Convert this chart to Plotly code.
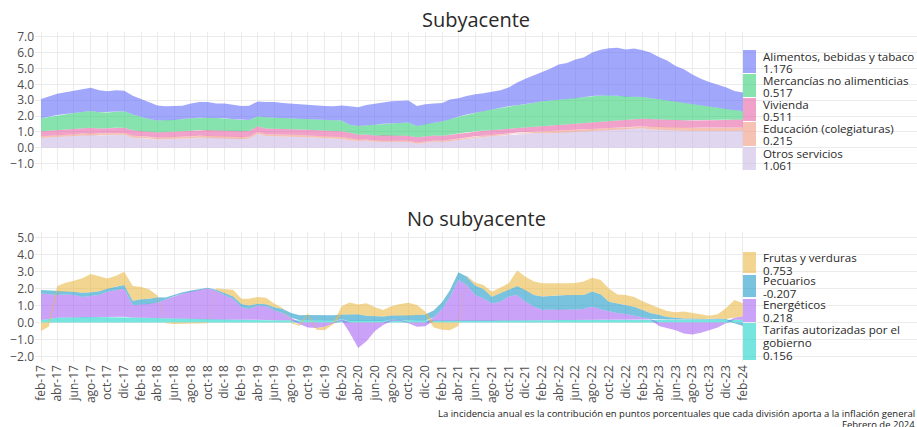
import numpy as np
import pandas as pd
import plotly.graph_objects as go

# ---------------- data ----------------
meses = pd.date_range("2017-02-01", periods=85, freq="MS")

etiquetas = ["feb-17", "abr-17", "jun-17", "ago-17", "oct-17", "dic-17",
             "feb-18", "abr-18", "jun-18", "ago-18", "oct-18", "dic-18",
             "feb-19", "abr-19", "jun-19", "ago-19", "oct-19", "dic-19",
             "feb-20", "abr-20", "jun-20", "ago-20", "oct-20", "dic-20",
             "feb-21", "abr-21", "jun-21", "ago-21", "oct-21", "dic-21",
             "feb-22", "abr-22", "jun-22", "ago-22", "oct-22", "dic-22",
             "feb-23", "abr-23", "jun-23", "ago-23", "oct-23", "dic-23",
             "feb-24"]

# Subyacente (incidencia, puntos porcentuales)
otros_servicios = [0.61, 0.64, 0.68, 0.71, 0.74, 0.78, 0.82, 0.78, 0.80, 0.82,
                   0.82, 0.64, 0.59, 0.58, 0.52, 0.54, 0.56, 0.58, 0.60, 0.64,
                   0.64, 0.62, 0.60, 0.58, 0.56, 0.58, 0.88, 0.74, 0.72, 0.72,
                   0.70, 0.68, 0.66, 0.64, 0.62, 0.58, 0.56, 0.48, 0.42, 0.44,
                   0.38, 0.40, 0.38, 0.36, 0.36, 0.26, 0.32, 0.38, 0.36, 0.42,
                   0.50, 0.58, 0.64, 0.68, 0.72, 0.76, 0.82, 0.88, 0.92, 0.92,
                   0.94, 0.92, 0.96, 0.98, 1.02, 1.04, 1.08, 1.10, 1.14, 1.16,
                   1.18, 1.20, 1.23, 1.16, 1.14, 1.12, 1.10, 1.08, 1.06, 1.06,
                   1.07, 1.08, 1.08, 1.07, 1.061]
educacion = [0.12, 0.12, 0.12, 0.12, 0.12, 0.12, 0.12, 0.12, 0.12, 0.12,
             0.12, 0.12, 0.12, 0.12, 0.12, 0.12, 0.12, 0.12, 0.12, 0.12,
             0.12, 0.12, 0.12, 0.12, 0.12, 0.12, 0.12, 0.12, 0.12, 0.12,
             0.12, 0.12, 0.12, 0.12, 0.12, 0.12, 0.12, 0.12, 0.08, 0.08,
             0.08, 0.08, 0.08, 0.08, 0.08, 0.08, 0.08, 0.08, 0.08, 0.08,
             0.08, 0.08, 0.08, 0.08, 0.08, 0.08, 0.08, 0.08, 0.08, 0.08,
             0.08, 0.12, 0.12, 0.12, 0.12, 0.12, 0.12, 0.12, 0.12, 0.12,
             0.12, 0.12, 0.12, 0.18, 0.18, 0.18, 0.18, 0.18, 0.18, 0.18,
             0.18, 0.18, 0.18, 0.20, 0.215]
vivienda = [0.32, 0.32, 0.32, 0.32, 0.32, 0.32, 0.32, 0.32, 0.32, 0.32,
            0.32, 0.34, 0.34, 0.34, 0.34, 0.34, 0.34, 0.34, 0.36, 0.36,
            0.36, 0.36, 0.36, 0.36, 0.36, 0.36, 0.36, 0.36, 0.36, 0.36,
            0.36, 0.36, 0.36, 0.36, 0.36, 0.36, 0.36, 0.36, 0.32, 0.32,
            0.32, 0.32, 0.32, 0.32, 0.32, 0.32, 0.32, 0.32, 0.32, 0.32,
            0.32, 0.32, 0.32, 0.32, 0.32, 0.32, 0.32, 0.32, 0.32, 0.36,
            0.38, 0.40, 0.40, 0.42, 0.42, 0.44, 0.44, 0.46, 0.46, 0.46,
            0.46, 0.48, 0.48, 0.48, 0.48, 0.48, 0.48, 0.48, 0.48, 0.48,
            0.49, 0.49, 0.50, 0.51, 0.511]
mercancias = [0.82, 0.87, 0.94, 0.97, 1.02, 1.04, 1.06, 1.02, 0.98, 1.02,
              1.04, 1.00, 0.89, 0.78, 0.74, 0.74, 0.74, 0.76, 0.78, 0.78,
              0.78, 0.78, 0.78, 0.74, 0.72, 0.70, 0.61, 0.70, 0.70, 0.68,
              0.67, 0.68, 0.68, 0.68, 0.67, 0.68, 0.68, 0.50, 0.56, 0.58,
              0.68, 0.72, 0.77, 0.82, 0.83, 0.72, 0.78, 0.80, 0.90, 1.00,
              1.05, 1.12, 1.18, 1.24, 1.30, 1.36, 1.40, 1.40, 1.42, 1.48,
              1.53, 1.54, 1.56, 1.56, 1.56, 1.58, 1.62, 1.61, 1.58, 1.54,
              1.46, 1.42, 1.37, 1.32, 1.26, 1.22, 1.16, 1.10, 1.04, 0.96,
              0.86, 0.77, 0.68, 0.58, 0.517]
alimentos = [1.21, 1.30, 1.34, 1.38, 1.38, 1.44, 1.46, 1.38, 1.35, 1.35,
             1.30, 1.18, 1.11, 1.03, 0.94, 0.88, 0.86, 0.85, 0.94, 0.98,
             0.98, 0.92, 0.94, 0.90, 0.87, 0.89, 0.95, 0.96, 0.98, 0.94,
             0.93, 0.90, 0.86, 0.86, 0.87, 0.88, 0.94, 1.16, 1.18, 1.28,
             1.30, 1.34, 1.39, 1.40, 1.39, 1.26, 1.25, 1.22, 1.17, 1.23,
             1.17, 1.16, 1.16, 1.12, 1.10, 1.10, 1.18, 1.44, 1.61, 1.71,
             1.87, 2.00, 2.21, 2.27, 2.44, 2.52, 2.74, 2.89, 2.97, 3.02,
             2.98, 3.04, 2.95, 2.86, 2.66, 2.50, 2.23, 2.11, 1.86, 1.67,
             1.55, 1.46, 1.38, 1.22, 1.176]

# No subyacente
tarifas = [0.15, 0.22, 0.28, 0.30, 0.33, 0.33, 0.32, 0.32, 0.33, 0.34,
           0.34, 0.30, 0.28, 0.27, 0.26, 0.25, 0.24, 0.24, 0.20, 0.20,
           0.19, 0.18, 0.17, 0.16, 0.15, 0.15, 0.15, 0.14, 0.14, 0.14,
           0.13, 0.13, 0.12, 0.12, 0.12, 0.12, 0.12, 0.11, 0.10, 0.10,
           0.10, 0.10, 0.11, 0.11, 0.12, 0.12, 0.12, 0.10, 0.10, 0.10,
           0.10, 0.10, 0.10, 0.11, 0.11, 0.12, 0.12, 0.13, 0.13, 0.14,
           0.14, 0.14, 0.15, 0.15, 0.15, 0.15, 0.16, 0.16, 0.16, 0.16,
           0.16, 0.17, 0.17, 0.18, 0.18, 0.18, 0.18, 0.18, 0.18, 0.17,
           0.17, 0.17, 0.16, 0.16, 0.156]
energeticos = [1.56, 1.46, 1.34, 1.35, 1.29, 1.17, 1.23, 1.30, 1.47, 1.56,
               1.64, 0.72, 0.78, 0.82, 0.90, 1.10, 1.30, 1.45, 1.62, 1.70,
               1.80, 1.67, 1.43, 1.24, 0.75, 0.65, 0.85, 0.81, 0.56, 0.40,
               0.15, -0.10, -0.30, -0.32, -0.25, -0.05, 0.05, -0.60, -1.50, -1.10,
               -0.50, -0.15, 0.05, 0.05, -0.05, -0.25, -0.22, 0.20, 0.70, 1.40,
               2.40, 2.10, 1.52, 1.30, 1.00, 1.10, 1.40, 1.49, 1.09, 0.79,
               0.60, 0.62, 0.60, 0.60, 0.62, 0.65, 0.78, 0.60, 0.48, 0.40,
               0.34, 0.25, 0.13, 0.02, -0.20, -0.30, -0.45, -0.65, -0.70, -0.60,
               -0.45, -0.30, -0.05, 0.12, 0.218]
pecuarios = [0.20, 0.20, 0.20, 0.18, 0.18, 0.25, 0.22, 0.22, 0.20, 0.22,
             0.22, 0.25, 0.30, 0.30, 0.32, 0.12, 0.10, 0.08, 0.06, 0.05,
             0.05, 0.08, 0.12, 0.14, 0.18, 0.20, 0.10, 0.12, 0.20, 0.25,
             0.28, 0.30, 0.32, 0.32, 0.30, 0.30, 0.30, 0.35, 0.38, 0.30,
             0.28, 0.25, 0.25, 0.25, 0.28, 0.32, 0.35, 0.40, 0.40, 0.40,
             0.45, 0.50, 0.55, 0.55, 0.40, 0.50, 0.40, 0.52, 0.69, 0.69,
             0.78, 0.80, 0.85, 0.86, 0.85, 0.82, 0.88, 0.90, 0.58, 0.56,
             0.53, 0.50, 0.44, 0.36, 0.27, 0.15, 0.10, 0.05, 0.05, 0.04,
             0.04, 0.06, 0.04, -0.05, -0.207]
frutas = [-0.50, -0.25, 0.33, 0.50, 0.65, 0.85, 1.08, 0.86, 0.58, 0.63,
          0.78, 0.88, 0.72, 0.56, 0.10, -0.05, -0.08, -0.08, -0.08, -0.06,
          -0.05, 0.07, 0.23, 0.38, 0.32, 0.40, 0.40, 0.38, 0.20, 0.06,
          -0.05, -0.10, 0.10, -0.10, -0.20, -0.05, 0.50, 0.71, 0.57, 0.73,
          0.52, 0.39, 0.56, 0.68, 0.76, 0.59, 0.17, -0.30, -0.42, -0.45,
          -0.20, 0.05, 0.18, 0.24, 0.30, 0.33, 0.38, 0.91, 0.78, 0.78,
          0.78, 0.74, 0.68, 0.69, 0.70, 0.78, 0.80, 0.84, 0.78, 0.53,
          0.59, 0.58, 0.51, 0.49, 0.40, 0.35, 0.32, 0.41, 0.32, 0.24,
          0.19, 0.25, 0.64, 1.04, 0.753]

# series listed from the bottom of the stack to the top
sub_series = [("Otros servicios", otros_servicios, "rgba(203,187,230,0.6)"),
              ("Educación (colegiaturas)", educacion, "rgba(238,153,128,0.6)"),
              ("Vivienda", vivienda, "rgba(230,100,168,0.6)"),
              ("Mercancías no alimenticias", mercancias, "rgba(53,208,120,0.6)"),
              ("Alimentos, bebidas y tabaco", alimentos, "rgba(99,110,250,0.6)")]
nosub_series = [("Tarifas autorizadas por el<br>gobierno", tarifas, "rgba(27,212,203,0.6)"),
                ("Energéticos", energeticos, "rgba(167,100,242,0.6)"),
                ("Pecuarios", pecuarios, "rgba(33,155,202,0.6)"),
                ("Frutas y verduras", frutas, "rgba(235,185,73,0.6)")]

# ---------------- geometry (screen px -> paper) ----------------
W, H = 917, 427
L = 35
GRID = "#ebebeb"
FONT = "Open Sans"


def sx(X):
    return (X - L) / (W - L)


def sy(Y):
    return 1 - Y / H


def stack(series):
    n = len(series[0][1])
    pos = np.zeros(n)
    neg = np.zeros(n)
    out = []
    for _, vals, _ in series:
        s = np.asarray(vals, float)
        lo = np.where(s >= 0, pos, neg + s)
        hi = np.where(s >= 0, pos + s, neg)
        pos = pos + np.clip(s, 0, None)
        neg = neg + np.clip(s, None, 0)
        out.append((lo, hi))
    return out


fig = go.Figure()
xs = list(meses) + list(meses[::-1])
for series, xa, ya in [(sub_series, "x", "y"), (nosub_series, "x2", "y2")]:
    for (name, vals, color), (lo, hi) in zip(series, stack(series)):
        fig.add_trace(go.Scatter(
            x=xs, y=np.concatenate([hi, lo[::-1]]), fill="toself",
            fillcolor=color, line=dict(width=0, color=color), mode="lines",
            hoverinfo="skip", showlegend=False, name=name, xaxis=xa, yaxis=ya))

# ---------- custom legends ----------
shapes = []
annotations = []


def legend_item(top, bottom, color, lines, offsets):
    shapes.append(dict(type="rect", xref="paper", yref="paper",
                       x0=sx(743), x1=sx(756), y0=sy(bottom), y1=sy(top),
                       fillcolor=color, line=dict(width=0), layer="above"))
    for txt, off in zip(lines, offsets):
        annotations.append(dict(text=txt, x=sx(761), y=sy(top + off),
                                xref="paper", yref="paper", xanchor="left",
                                yanchor="middle", showarrow=False,
                                font=dict(family=FONT, size=11.6, color="#2a2a2a")))


top_boxes = [(50, 73), (74, 97), (98, 121), (122, 146), (147, 170)]
for (name, vals, color), (t, b) in zip(sub_series[::-1], top_boxes):
    legend_item(t, b, color, [name, f"{vals[-1]:.3f}"], [6.5, 18.3])

bot_boxes = [(252, 273), (275, 297), (299, 322), (323, 360)]
for (name, vals, color), (t, b) in zip(nosub_series[::-1], bot_boxes):
    parts = name.split("<br>") + [f"{vals[-1]:.3f}"]
    offs = [6.5, 19.5, 32] if len(parts) == 3 else [5, 18]
    legend_item(t, b, color, parts, offs)

# titles
for txt, yy in [("Subyacente", 19), ("No subyacente", 218)]:
    annotations.append(dict(text=txt, x=sx(476), y=sy(yy), xref="paper", yref="paper",
                            xanchor="center", yanchor="middle", showarrow=False,
                            font=dict(family=FONT, size=20, color="#2a2a2a")))
# footnote
annotations.append(dict(text="La incidencia anual es la contribución en puntos porcentuales que cada división aporta a la inflación general",
                        x=sx(916.5), y=sy(413), xref="paper", yref="paper", xanchor="right",
                        yanchor="middle", showarrow=False,
                        font=dict(family=FONT, size=9.5, color="#222")))
annotations.append(dict(text="Febrero de 2024",
                        x=sx(916.5), y=sy(424), xref="paper", yref="paper", xanchor="right",
                        yanchor="middle", showarrow=False,
                        font=dict(family=FONT, size=9.5, color="#222")))

tick_dates = list(meses[::2])
xr = ["2017-01-10", "2025-10-27"]
xcommon = dict(type="date", range=xr, tickvals=tick_dates, ticktext=etiquetas,
               showgrid=True, gridcolor=GRID, gridwidth=1, zeroline=False,
               showline=False, ticks="", automargin=False, domain=[0, 1])
ycommon = dict(dtick=1, tick0=0, tickformat=".1f", showgrid=True, gridcolor=GRID,
               gridwidth=1, zeroline=False, showline=False, ticks="", automargin=False,
               tickfont=dict(family=FONT, size=12, color="#4d4d4d"))

fig.update_layout(
    width=W, height=H, margin=dict(l=L, r=0, t=0, b=0),
    plot_bgcolor="white", paper_bgcolor="white", showlegend=False,
    font=dict(family=FONT, color="#4d4d4d"),
    xaxis=dict(xcommon, anchor="y", showticklabels=False),
    yaxis=dict(ycommon, domain=[sy(170), sy(32)], range=[-1.4, 7.3], anchor="x"),
    xaxis2=dict(xcommon, anchor="y2", matches="x", showticklabels=True, tickangle=-90,
                tickfont=dict(family=FONT, size=12, color="#4d4d4d")),
    yaxis2=dict(ycommon, domain=[sy(361.7), sy(231.7)], range=[-2.3, 5.33], anchor="x2"),
    shapes=shapes, annotations=annotations,
)

# place the figure flush with the window's top-left corner (no default page margin)
fig.write_html("out.html",
               config={"displayModeBar": False},
               post_script="document.body.style.margin='0';"
                           "document.documentElement.style.overflow='hidden';"
                           "document.body.style.overflow='hidden';")
